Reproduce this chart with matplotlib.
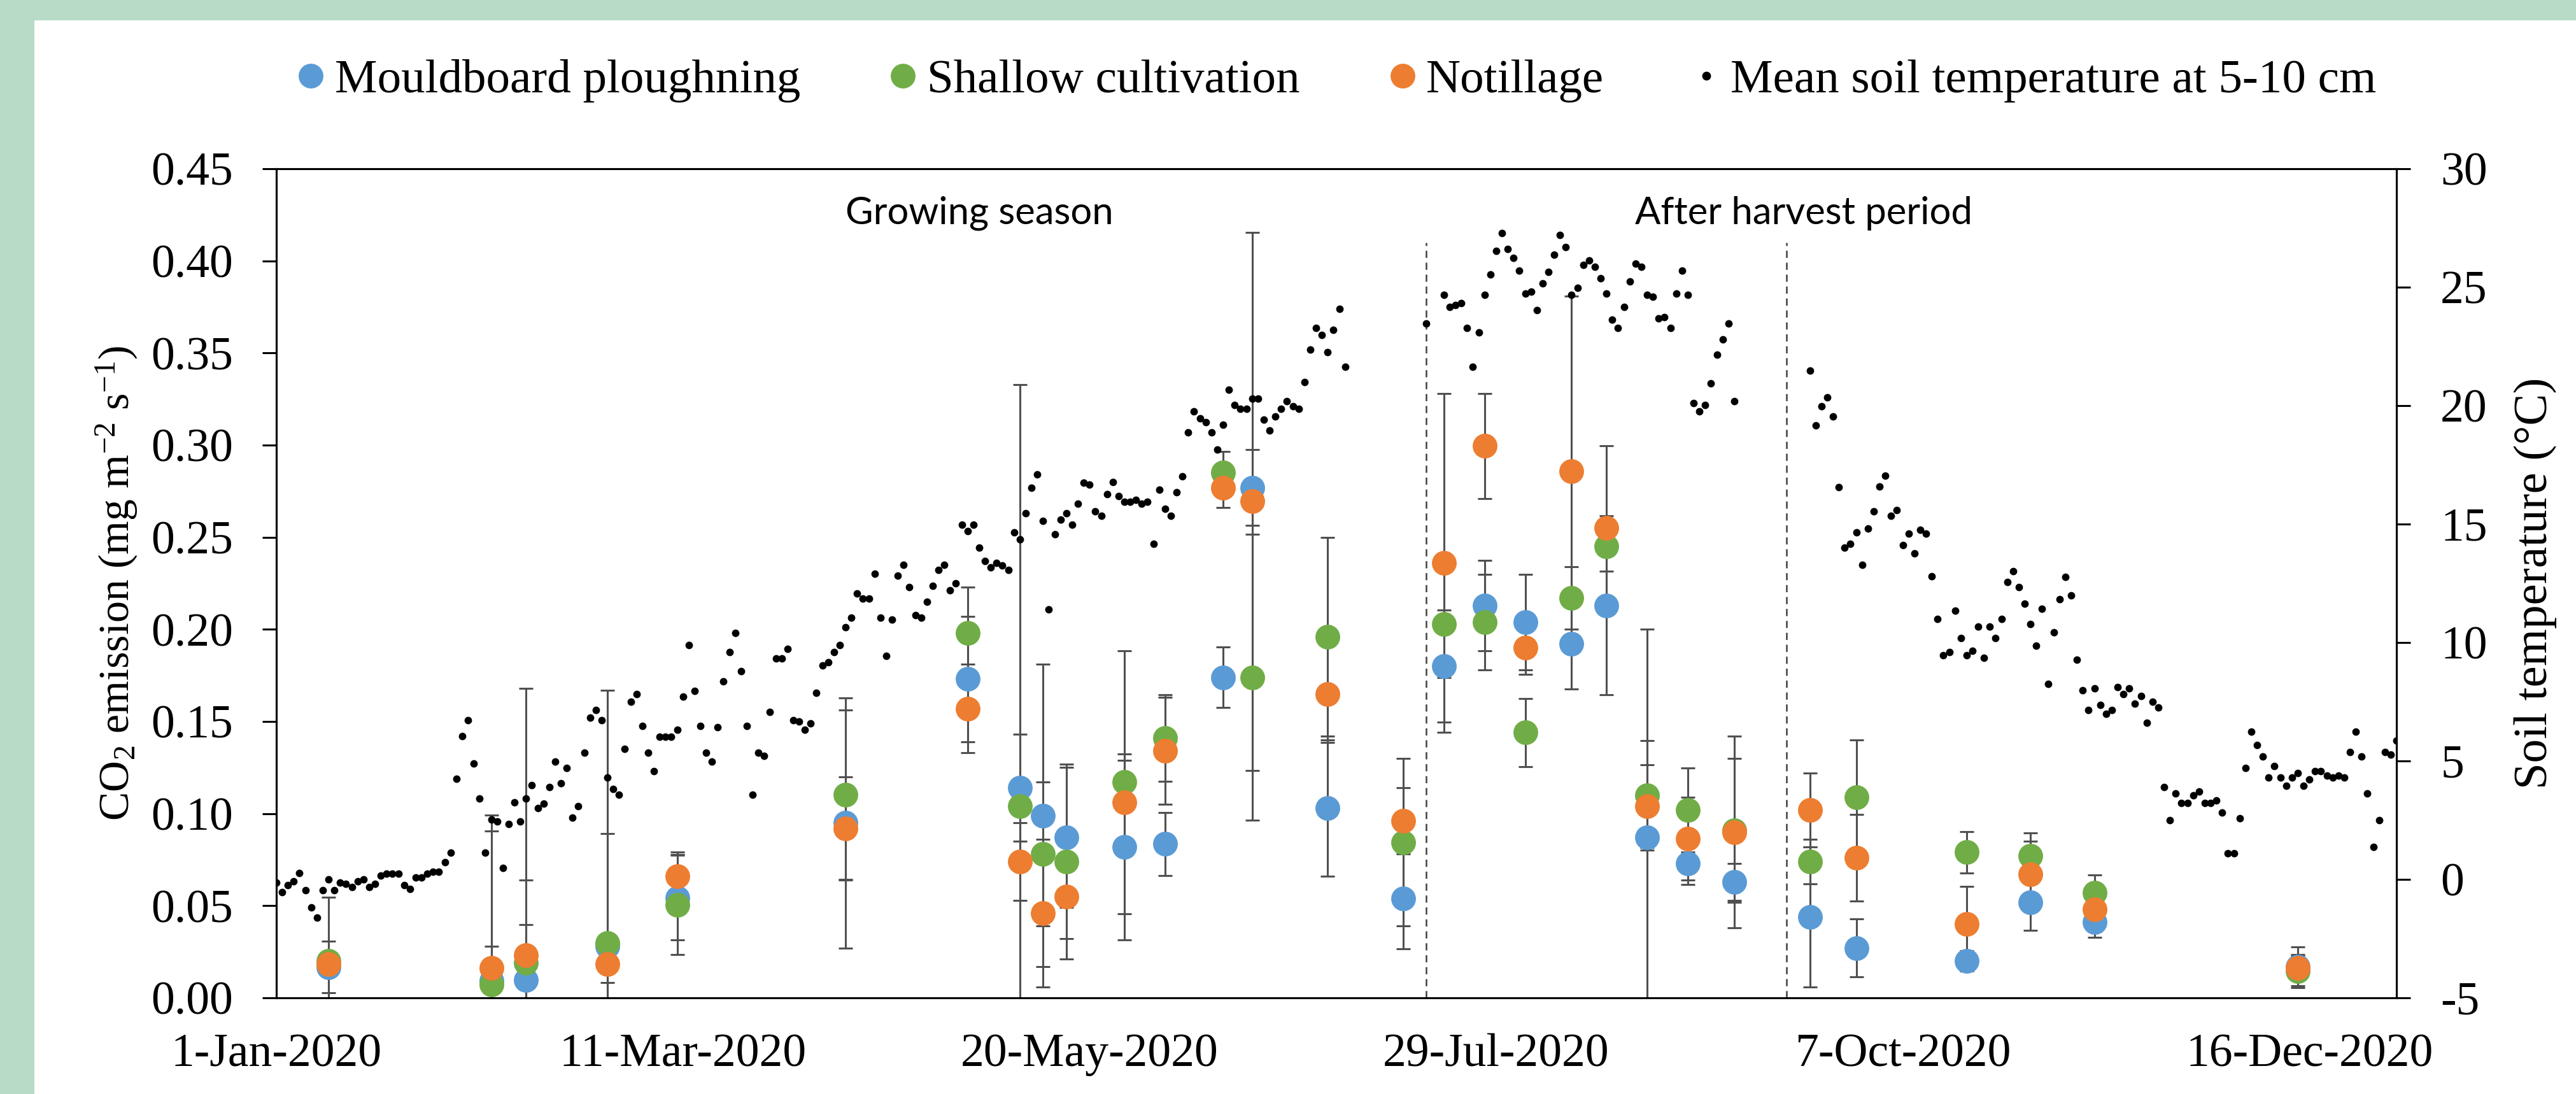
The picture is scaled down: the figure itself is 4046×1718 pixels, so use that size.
import numpy as np
import pandas as pd
import matplotlib
matplotlib.use("Agg")
import matplotlib.pyplot as plt
import matplotlib.dates as mdates
from matplotlib.lines import Line2D
from matplotlib.patches import Rectangle
from matplotlib.ticker import FuncFormatter, MultipleLocator

# Sampling dates of CO2 emission
sample_dates = ['2020-01-10', '2020-02-07', '2020-02-13', '2020-02-27', '2020-03-10',
                '2020-04-08', '2020-04-29', '2020-05-08', '2020-05-12', '2020-05-16',
                '2020-05-26', '2020-06-02', '2020-06-12', '2020-06-17', '2020-06-30',
                '2020-07-13', '2020-07-20', '2020-07-27', '2020-08-03', '2020-08-11',
                '2020-08-17', '2020-08-24', '2020-08-31', '2020-09-08', '2020-09-21',
                '2020-09-29', '2020-10-18', '2020-10-29', '2020-11-09', '2020-12-14']

# Mouldboard ploughing (mean and error)
mp_flux = [0.0167, 0.0094, 0.0098, 0.028, 0.0543, 0.0949, 0.173, 0.114, 0.099, 0.087,
           0.082, 0.0835, 0.174, 0.277, 0.103, 0.054, 0.180, 0.213, 0.204, 0.192,
           0.213, 0.087, 0.073, 0.063, 0.044, 0.027, 0.020, 0.052, 0.041, 0.017]
mp_err = [0.014, 0.081, 0.030, 0.061, 0.023, 0.068, 0.034, 0.029, 0.082, 0.038,
          0.0505, 0.017, 0.0165, 0.0205, 0.037, 0.0275, 0.0305, 0.0245, 0.026, 0.0245,
          0.0485, 0.113, 0.0116, 0.010, 0.038, 0.0157, 0.0055, 0.0155, 0.008, 0.0105]

# Shallow cultivation
sc_flux = [0.020, 0.0071, 0.019, 0.0298, 0.0506, 0.1103, 0.198, 0.104, 0.078, 0.074,
           0.117, 0.141, 0.285, 0.174, 0.196, 0.0845, 0.203, 0.204, 0.144, 0.217,
           0.245, 0.110, 0.102, 0.091, 0.074, 0.109, 0.079, 0.077, 0.057, 0.0145]
sc_err = [0.0015, 0.021, 0.045, 0.137, 0.027, 0.046, 0.025, 0.229, 0.039, 0.053,
          0.0715, 0.0235, 0.0116, 0.0775, 0.054, 0.0455, 0.029, 0.026, 0.0185, 0.017,
          0.0135, 0.0297, 0.0228, 0.039, 0.012, 0.031, 0.0113, 0.0124, 0.0098, 0.009]

# Notillage
nt_flux = [0.0184, 0.0163, 0.023, 0.0184, 0.066, 0.092, 0.157, 0.074, 0.046, 0.055,
           0.106, 0.134, 0.277, 0.2695, 0.165, 0.096, 0.236, 0.2996, 0.190, 0.286,
           0.255, 0.104, 0.0865, 0.090, 0.102, 0.076, 0.040, 0.067, 0.048, 0.0163]
nt_err = [0.0363, 0.083, 0.145, 0.010, 0.013, 0.028, 0.024, 0.021, 0.040, 0.023,
          0.023, 0.029, 0.011, 0.146, 0.0265, 0.018, 0.092, 0.0285, 0.0145, 0.095,
          0.0445, 0.0225, 0.0225, 0.052, 0.020, 0.0235, 0.0205, 0.018, 0.0122, 0.0066]

# Daily mean soil temperature at 5-10 cm from 1-Jan-2020 (None = no data)
temp_start = '2020-01-01'
soil_temp = [
    -0.14, -0.54, -0.23, -0.07, 0.27, -0.47, -1.19, -1.60, -0.47, 0.00,
    -0.47, -0.14, -0.18, -0.32, -0.07, 0.00, -0.32, -0.18, 0.15, 0.24,
    0.24, 0.24, -0.23, -0.41, 0.09, 0.09, 0.24, 0.33, 0.33, 0.72,
    1.14, 4.24, 6.04, 6.73, 4.89, 3.41, 1.14, 2.53, 2.44, 0.49,
    2.35, 3.25, 2.44, 3.41, 3.97, 3.01, 3.19, 3.90, 4.96, 4.06,
    4.71, 2.60, 3.10, 5.36, 6.82, 7.16, 6.73, 4.31, 3.81, 3.57,
    5.52, 7.50, 7.81, 6.49, 5.36, 4.56, 6.02, 6.02, 6.02, 6.33,
    7.72, 9.90, 7.97, 6.49, 5.36, 4.96, 6.42, 8.37, 9.59, 10.39,
    8.78, 6.49, 3.57, 5.36, 5.21, 7.07, 9.34, 9.34, 9.74, 6.73,
    6.67, 6.33, 6.58, 7.88, 9.02, 9.18, 9.59, 9.90, 10.64, 11.05,
    12.08, 11.85, 11.85, 12.91, 11.05, 9.43, 10.98, 12.82, 13.29, 12.35,
    11.16, 11.05, 11.72, 12.39, 13.07, 13.29, 12.21, 12.51, 14.98, 14.71,
    14.98, 14.01, 13.45, 13.18, 13.36, 13.25, 13.07, 14.64, 14.35, 15.45,
    16.52, 17.11, 15.13, 11.40, 14.57, 15.20, 15.45, 14.98, 15.85, 16.75,
    16.66, 15.54, 15.36, 16.26, 16.77, 16.17, 15.94, 15.94, 16.03, 15.85,
    15.94, 14.17, 16.44, 15.65, 15.36, 16.35, 17.02, 18.86, 19.76, 19.47,
    19.29, 18.86, 18.14, 19.20, 20.66, 20.03, 19.87, 19.87, 20.30, 20.30,
    19.42, 18.95, 19.53, 19.87, 20.19, 19.98, 19.87, 20.99, 22.36, 23.28,
    22.99, 22.27, 23.19, 24.09, 21.65,
    None, None, None, None, None, None, None, None, None, None, None, None, None,
    23.46, None, None,
    24.68, 24.18, 24.25, 24.34, 23.28, 21.65, 23.10, 24.68, 25.55,
    26.54, 27.28, 26.61, 26.23, 25.71, 24.74, 24.81, 24.03, 25.15, 25.64,
    26.36, 27.21, 26.70, 24.68, 24.97, 25.93, 26.14, 25.87, 25.37, 24.74,
    23.62, 23.28, 24.18, 25.24, 26.00, 25.87, 24.68, 24.59, 23.69, 23.73,
    23.28, 24.74, 25.71, 24.68, 20.10, 19.76, 20.03, 20.93, 22.14, 22.79,
    23.46, 20.19,
    None, None, None, None, None, None, None, None, None, None, None, None,
    21.47, 19.17, 19.96, 20.34, 19.53, 16.55,
    14.01, 14.17, 14.64, 13.29, 14.82, 15.54, 16.59, 17.04, 15.36, 15.60,
    14.10, 14.59, 13.76, 14.75, 14.59, 12.80, 11.00, 9.47, 9.59, 11.34,
    10.19, 9.47, 9.65, 10.66, 9.36, 10.66, 10.19, 11.00, 12.55, 13.02,
    12.35, 11.65, 10.78, 9.86, 11.43, 8.24, 10.44, 11.83, 12.77, 11.99,
    9.27, 7.99, 7.16, 8.06, 7.36, 7.00, 7.16, 8.13, 7.81, 8.06,
    7.41, 7.74, 6.60, 7.50, 7.27, 3.90, 2.50, 3.63, 3.22, 3.22,
    3.56, 3.71, 3.22, 3.22, 3.32, 2.83, 1.10, 1.10, 2.59, 4.70,
    6.25, 5.68, 5.20, 4.30, 4.79, 4.30, 3.95, 4.30, 4.48, 3.95,
    4.21, 4.57, 4.57, 4.39, 4.30, 4.39, 4.30, 5.38, 6.25, 5.20,
    3.63, 1.37, 2.50, 5.38, 5.27, 5.86,
]

# Limits between growing season / after harvest / rest of the year
period_breaks = ['2020-07-17', '2020-09-17']

dates = pd.to_datetime(sample_dates)
temp = pd.Series(soil_temp, index=pd.date_range(temp_start, periods=len(soil_temp), freq='D'),
                 dtype=float)

plt.rcParams['font.family'] = ['Liberation Serif', 'DejaVu Serif']
plt.rcParams['mathtext.fontset'] = 'custom'
plt.rcParams['mathtext.rm'] = 'Liberation Serif'
plt.rcParams['mathtext.it'] = 'Liberation Serif:italic'
plt.rcParams['axes.unicode_minus'] = False

W, H = 4046, 1718
fig = plt.figure(figsize=(W / 100, H / 100), dpi=100)
fig.patch.set_facecolor('#b8dbc8')
fig.add_artist(Rectangle((54 / W, 0), 1 - 54 / W, 1 - 32 / H, transform=fig.transFigure,
                         facecolor='white', edgecolor='none', zorder=-10))

ax = fig.add_axes([434 / W, 151 / H, 3330 / W, 1302 / H])
ax2 = ax.twinx()

series = [(mp_flux, mp_err, '#5b9bd5', 'Mouldboard ploughning'),
          (sc_flux, sc_err, '#70ad47', 'Shallow cultivation'),
          (nt_flux, nt_err, '#ed7d31', 'Notillage')]

# Error bars first, markers on top
for vals, err, col, lab in series:
    ax.errorbar(dates, vals, yerr=err, fmt='none', ecolor='#505050', elinewidth=2.2,
                capsize=8, capthick=2.2, zorder=2)
handles = []
for vals, err, col, lab in series:
    h, = ax.plot(dates, vals, 'o', color=col, ms=28, mec='none', zorder=3, label=lab)
    handles.append(h)

# Period separators and labels
for d in pd.to_datetime(period_breaks):
    ax.plot([d, d], [0, 0.41], color='#404040', lw=1.8, ls=(0, (4.5, 3)), zorder=1)
ax.text(pd.Timestamp('2020-05-01'), 0.42, 'Growing season', family='Lato', fontsize=43,
        ha='center', va='baseline')
ax.text(pd.Timestamp('2020-09-20'), 0.42, 'After harvest period', family='Lato', fontsize=43,
        ha='center', va='baseline')

# Soil temperature on the secondary axis
ax2.plot(temp.index, temp.values, 'o', color='black', ms=8.5, mec='none')
handles.append(Line2D([], [], ls='none', marker='o', color='black', ms=10, mec='none',
                      label='Mean soil temperature at 5-10 cm'))

ax.set_xlim(pd.Timestamp('2020-01-01'), pd.Timestamp('2020-12-31'))
ax.set_ylim(0, 0.45)
ax2.set_ylim(-5, 30)
ax.yaxis.set_major_locator(MultipleLocator(0.05))
ax.yaxis.set_major_formatter(FuncFormatter(lambda v, p: f'{v:.2f}'))
ax2.yaxis.set_major_locator(MultipleLocator(5))
ax2.yaxis.set_major_formatter(FuncFormatter(lambda v, p: f'{v:.0f}'))
ax.set_xticks(pd.date_range('2020-01-01', periods=6, freq='70D'))
ax.xaxis.set_major_formatter(FuncFormatter(
    lambda v, p: f"{mdates.num2date(v).day}-{mdates.num2date(v):%b-%Y}"))

for a in (ax, ax2):
    for s in a.spines.values():
        s.set_linewidth(2.2)
        s.set_color('black')
ax.tick_params(axis='y', direction='out', length=15.8, width=2.2, labelsize=53, pad=33)
ax.tick_params(axis='x', length=0, labelsize=53, pad=40)
ax2.tick_params(axis='y', direction='out', length=15.8, width=2.2, labelsize=53, pad=34)

ax.set_ylabel('CO$_2$ emission (mg m$^{-2}$ s$^{-1}$)', fontsize=49, va='baseline')
ax.yaxis.set_label_coords((203 - 434) / 3330, 0.5)
ax2.set_ylabel('Soil temperature (°C)', fontsize=54, rotation=90, va='baseline',
               rotation_mode='anchor')
ax2.yaxis.set_label_coords((4000 - 434) / 3330, 0.5)

ax2.legend(handles, [x.get_label() for x in handles], loc='center',
           bbox_to_anchor=(0.5, (1567 - 127) / 1302), ncol=4, frameon=False, fontsize=54,
           handlelength=0.6, handletextpad=0.2, columnspacing=1.85, borderaxespad=0)

fig.savefig('out.png', dpi=100, facecolor=fig.get_facecolor())
